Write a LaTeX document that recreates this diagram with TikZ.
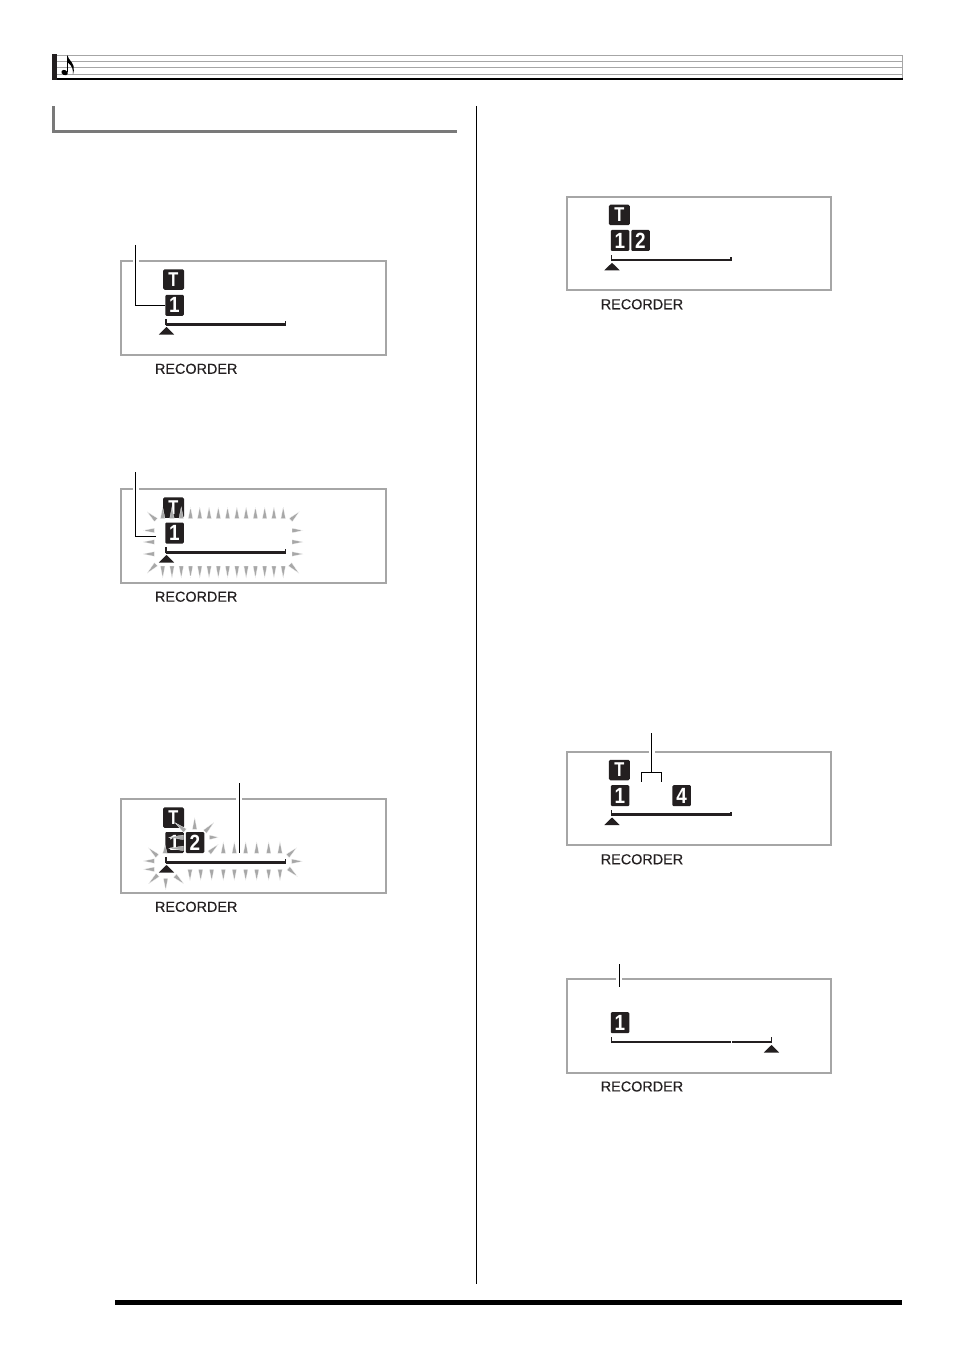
\documentclass[tikz,border=0pt]{standalone}
\usepackage{fontspec}
\setmainfont{Liberation Sans}
\newfontfamily\recfont[FakeBold=0.2]{Liberation Sans}
\usetikzlibrary{calc}
\definecolor{framegrey}{HTML}{A6A6A6}
\definecolor{raygrey}{HTML}{A8A8A8}
\definecolor{boxblack}{HTML}{231F20}
\tikzset{
  lcdframe/.style={draw=framegrey,line width=2pt,minimum width=264.6pt,minimum height=93.6pt,inner sep=0pt,outer sep=0pt,anchor=north west},
  lcdlabel/.style={font=\recfont\fontsize{14.4}{14.4}\selectfont,text=boxblack,anchor=west,inner sep=0pt},
  tbox/.style={fill=boxblack,text=white,rounded corners=1.5pt,minimum width=21pt,minimum height=20.5pt,inner sep=0pt,font=\fontsize{20}{20}\selectfont\bfseries},
  nbox/.style={fill=boxblack,text=white,rounded corners=1.2pt,minimum width=18.5pt,minimum height=21pt,inner sep=0pt,font=\fontsize{22}{22}\selectfont\bfseries},
  track/.style={draw=boxblack,line width=2.4pt},
  tracktick/.style={draw=boxblack,line width=1.5pt},
  leader/.style={draw=black,line width=1pt,preaction={draw=white,line width=6pt}},
  marker/.style={fill=boxblack,draw=none},
  rayshape/.style={fill=raygrey,draw=white,line width=.2pt},
  staff/.style={draw=framegrey,line width=1pt},
}
\newcommand{\lcdbase}[3]{%
  \node[lcdframe] (#1) at (#2,#3) {};
  \node[lcdlabel] (#1rec) at ($(#2,#3)+(33.8,107.5)$) {RECORDER};
}
\newcommand{\tracksym}[4]{%
  \draw[track] (#2,#3) -- (#4,#3);
  \draw[tracktick] (#2,#3+1) -- (#2,#3-5);
  \draw[tracktick] (#4-.2,#3+1) -- (#4-.2,#3-3);
}
\newcommand{\markersym}[2]{%
  \fill[marker] (#1-7.7,#2+7.5) -- (#1,#2) -- (#1+7.7,#2+7.5) -- cycle;
}
\newcommand{\raysym}[4]{%
  \fill[rayshape] (#3,#4) -- ($(#1,#2)!2.3pt!90:(#3,#4)$) -- ($(#1,#2)!2.3pt!-90:(#3,#4)$) -- cycle;
}
\newcommand{\narrowT}{\scalebox{.82}[1]{T}}
\newcommand{\narrowN}[1]{\scalebox{.86}[1]{#1}}
\begin{document}
\begin{tikzpicture}[x=1pt,y=-1pt]
\useasboundingbox (0,0) rectangle (954,1348);
\fill[white] (0,0) rectangle (954,1348);
% page header staff
\foreach \yy in {55.7,61.8,68,74.2} {\draw[staff] (55,\yy) -- (902.5,\yy);}
\draw[staff] (902.5,55.2) -- (902.5,79);
\draw[black,line width=1.8pt] (52,79.3) -- (902.5,79.3);
\fill[boxblack] (52.3,54) rectangle (57,80);
\fill[black,rotate around={-25:(64.6,72.6)}] (64.6,72.6) ellipse (3.4pt and 2.5pt);
\draw[black,line width=.8pt] (67.8,56) -- (67.8,72);
\fill[black] (67.4,55) .. controls (68.5,60) and (72,61) .. (73.5,66) .. controls (74.2,69) and (73.8,72) .. (73,74.5) .. controls (73.2,70) and (72.6,66) .. (67.4,62) -- cycle;
% section heading rule
\fill[gray!95!black] (52,106) rectangle (55,132.6);
\fill[gray!95!black] (52,130) rectangle (457,132.6);
% column rule and foot rule
\draw[black,line width=1pt] (476.6,106) -- (476.6,1284);
\fill[black] (114.5,1300) rectangle (902,1305);

% ---------- display 1
\lcdbase{dA}{121}{261.3}
\tracksym{trA}{166}{324.3}{285.5}
\markersym{166.5}{327}
\node[tbox] (dAt) at (173.5,279.5) {\narrowT};
\node[nbox] (dAa) at (174.5,305.3) {\narrowN{1}};
\coordinate (dAl) at (135.7,245);
\draw[leader] (dAl) |- (dAa.west);

% ---------- display 2
\lcdbase{dB}{121}{489.2}
\tracksym{trB}{166}{552.3}{285.5}
\markersym{166.5}{555}
\node[tbox] (dBt) at (173.5,507.5) {\narrowT};
\node[nbox] (dBa) at (174.5,533) {\narrowN{1}};
\coordinate (dBl) at (135.7,472);
\coordinate (dBe) at (155.5,536);
\draw[leader] (dBl) |- (dBe);
\foreach \i in {0,...,13} {
  \raysym{162.7+9.27*\i}{518.5}{162.7+9.27*\i}{507}
  \raysym{162.7+9.27*\i}{566}{162.7+9.27*\i}{578}
}
\foreach \yy in {530.5,542,554} {
  \raysym{154.3}{\yy}{143}{\yy}
  \raysym{292}{\yy}{303}{\yy}
}
\raysym{156}{520}{147}{511.7}
\raysym{290.7}{520}{299.3}{511.7}
\raysym{156}{564.3}{147}{573.3}
\raysym{290}{564.3}{299}{573.3}

% ---------- display 3
\lcdbase{dC}{121}{799.3}
\tracksym{trC}{166}{862.3}{285.5}
\markersym{166.5}{865}
\node[tbox] (dCt) at (173.5,817.5) {\narrowT};
\node[nbox] (dCa) at (174.5,842.5) {\narrowN{1}};
\node[nbox] (dCb) at (195,842.5) {\narrowN{2}};
\coordinate (dCl) at (239.3,783);
\coordinate (dCe) at (239.3,853);
\draw[leader] (dCl) -- (dCe);
\begin{scope}[shift={(110,780)},x=.3333pt,y=-.3333pt]
  \foreach \xx in {340,373,407,440,476,510} {\raysym{\xx}{220}{\xx}{185}}
  \foreach \xx in {240,272,305,340,373,407,440,476,510} {\raysym{\xx}{268}{\xx}{302}}
  \raysym{254}{148}{254}{112}
  \raysym{165}{220}{165}{195}
  \raysym{167}{295}{167}{330}
  \raysym{142}{228}{115}{203}
  \raysym{143}{285}{115}{312}
  \raysym{195}{287}{222}{312}
  \raysym{225}{152}{195}{128}
  \raysym{285}{155}{312}{127}
  \raysym{298}{172}{325}{172}
  \raysym{298}{218}{325}{193}
  \raysym{533}{228}{560}{203}
  \raysym{535}{265}{563}{290}
  \raysym{133}{243}{100}{243}
  \raysym{133}{268}{100}{268}
  \raysym{545}{244}{578}{244}
  \raysym{220}{172}{176}{172}
  \raysym{220}{205}{176}{205}
\end{scope}

% ---------- display 4
\lcdbase{dD}{566.8}{196.8}
\tracksym{trD}{611.5}{260}{731}
\markersym{612}{262.8}
\node[tbox] (dDt) at (619.3,215) {\narrowT};
\node[nbox] (dDa) at (620,240.5) {\narrowN{1}};
\node[nbox] (dDb) at (640.5,240.5) {\narrowN{2}};

% ---------- display 5
\lcdbase{dE}{566.8}{751.8}
\tracksym{trE}{611.5}{814.5}{731}
\markersym{612}{817.5}
\node[tbox] (dEt) at (619.3,770) {\narrowT};
\node[nbox] (dEa) at (620,795.7) {\narrowN{1}};
\node[nbox] (dEd) at (681.7,795.7) {\narrowN{4}};
\coordinate (dEl) at (651.5,733);
\coordinate (dEj) at (651.5,772.7);
\coordinate (dEbl) at (641.7,781.7);
\coordinate (dEbr) at (661.7,781.7);
\draw[leader] (dEl) -- (dEj);
\draw[black,line width=1pt] (dEbl) |- (dEbr |- dEj) -- (dEbr);

% ---------- display 6
\lcdbase{dF}{566.8}{979}
\draw[track] (611.5,1042) -- (771.5,1042);
\draw[tracktick] (611.5,1043) -- (611.5,1037);
\draw[tracktick] (771.3,1043) -- (771.3,1037);
\draw[white,line width=.8pt] (731.6,1040.5) -- (731.6,1043.5);
\markersym{771.5}{1045}
\node[nbox] (dFa) at (620,1022.7) {\narrowN{1}};
\coordinate (dFl) at (619.3,964);
\coordinate (dFe) at (619.3,987);
\draw[leader] (dFl) -- (dFe);
\end{tikzpicture}
\end{document}
